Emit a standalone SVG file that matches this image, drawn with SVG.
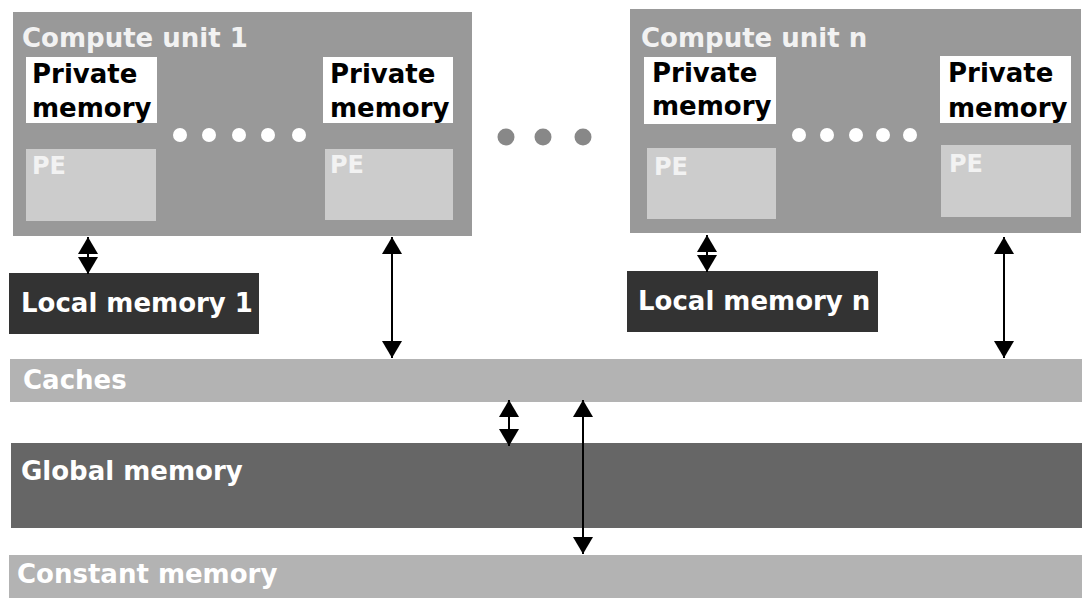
<svg xmlns="http://www.w3.org/2000/svg" width="1082" height="598" viewBox="0 0 1082 598">
<style>
.cu{fill:#999999}
.pm{fill:#ffffff}
.pe{fill:#cccccc}
.lm{fill:#333333}
.lt{fill:#b3b3b3}
.gm{fill:#666666}
.t{font-family:"DejaVu Sans",sans-serif;font-weight:bold;font-size:26px}
.w{fill:#ffffff}
.wf{fill:#f2f2f2}
.k{fill:#000000}
.pet{font-family:"DejaVu Sans",sans-serif;font-weight:bold;font-size:24px;fill:#f2f2f2}
.wd{fill:#ffffff}
.gd{fill:#888888}
.c{stroke:#000;stroke-width:2;fill:none;marker-start:url(#ah);marker-end:url(#ah)}
</style>
<defs>
<marker id="ah" viewBox="0 0 17 20" refX="17" refY="10" markerWidth="17" markerHeight="20" markerUnits="userSpaceOnUse" orient="auto-start-reverse">
<path d="M0,0 L17,10 L0,20 z" fill="#000"/>
</marker>
</defs>
<rect width="1082" height="598" fill="#ffffff"/>
<g id="cu1">
<rect class="cu" x="13" y="12" width="459" height="224"/>
<text class="t wf" x="22" y="47">Compute unit 1</text>
</g>
<g id="pm1">
<rect class="pm" x="26" y="57" width="131" height="66"/>
<text class="t k" x="32" y="83">Private</text>
<text class="t k" x="32" y="117">memory</text>
</g>
<g id="pe1">
<rect class="pe" x="26" y="149" width="130" height="72"/>
<text class="pet" x="32" y="174">PE</text>
</g>
<g id="dots1">
<circle class="wd" cx="180" cy="135" r="7"/>
<circle class="wd" cx="209" cy="135" r="7"/>
<circle class="wd" cx="239" cy="135" r="7"/>
<circle class="wd" cx="268" cy="135" r="7"/>
<circle class="wd" cx="299" cy="135" r="7"/>
</g>
<g id="pm2">
<rect class="pm" x="323" y="57" width="130" height="66"/>
<text class="t k" x="330" y="83">Private</text>
<text class="t k" x="330" y="117">memory</text>
</g>
<g id="pe2">
<rect class="pe" x="325" y="149" width="128" height="71"/>
<text class="pet" x="330" y="173">PE</text>
</g>
<g id="gdots">
<circle class="gd" cx="506" cy="137" r="8.5"/>
<circle class="gd" cx="543" cy="137" r="8.5"/>
<circle class="gd" cx="583" cy="137" r="8.5"/>
</g>
<g id="cun">
<rect class="cu" x="630" y="9" width="451" height="224"/>
<text class="t wf" x="641" y="47">Compute unit n</text>
</g>
<g id="pmn1">
<rect class="pm" x="644" y="57" width="132" height="67"/>
<text class="t k" x="652" y="82">Private</text>
<text class="t k" x="652" y="115">memory</text>
</g>
<g id="pen1">
<rect class="pe" x="647" y="148" width="129" height="71"/>
<text class="pet" x="654" y="175">PE</text>
</g>
<g id="dotsn">
<circle class="wd" cx="799" cy="135" r="7"/>
<circle class="wd" cx="827" cy="135" r="7"/>
<circle class="wd" cx="856" cy="135" r="7"/>
<circle class="wd" cx="883" cy="135" r="7"/>
<circle class="wd" cx="910" cy="135" r="7"/>
</g>
<g id="pmn2">
<rect class="pm" x="940" y="56" width="131" height="67"/>
<text class="t k" x="948" y="82">Private</text>
<text class="t k" x="948" y="117">memory</text>
</g>
<g id="pen2">
<rect class="pe" x="941" y="145" width="130" height="72"/>
<text class="pet" x="949" y="172">PE</text>
</g>
<g id="lm1">
<rect class="lm" x="9" y="273" width="250" height="61"/>
<text class="t w" x="21" y="312">Local memory 1</text>
</g>
<g id="lmn">
<rect class="lm" x="627" y="271" width="251" height="61"/>
<text class="t w" x="638" y="310">Local memory n</text>
</g>
<g id="caches">
<rect class="lt" x="10" y="359" width="1072" height="43"/>
<text class="t w" x="23" y="389">Caches</text>
</g>
<g id="global">
<rect class="gm" x="11" y="443" width="1071" height="85"/>
<text class="t w" x="21" y="480">Global memory</text>
</g>
<g id="constant">
<rect class="lt" x="9" y="555" width="1073" height="43"/>
<text class="t w" x="17" y="583">Constant memory</text>
</g>
<g id="connectors">
<line class="c" x1="88" y1="237" x2="88" y2="274"/>
<line class="c" x1="392" y1="237" x2="392" y2="358"/>
<line class="c" x1="707" y1="235" x2="707" y2="272"/>
<line class="c" x1="1004" y1="237" x2="1004" y2="358"/>
<line class="c" x1="509" y1="400" x2="509" y2="446"/>
<line class="c" x1="583" y1="400" x2="583" y2="554"/>
</g>
</svg>
